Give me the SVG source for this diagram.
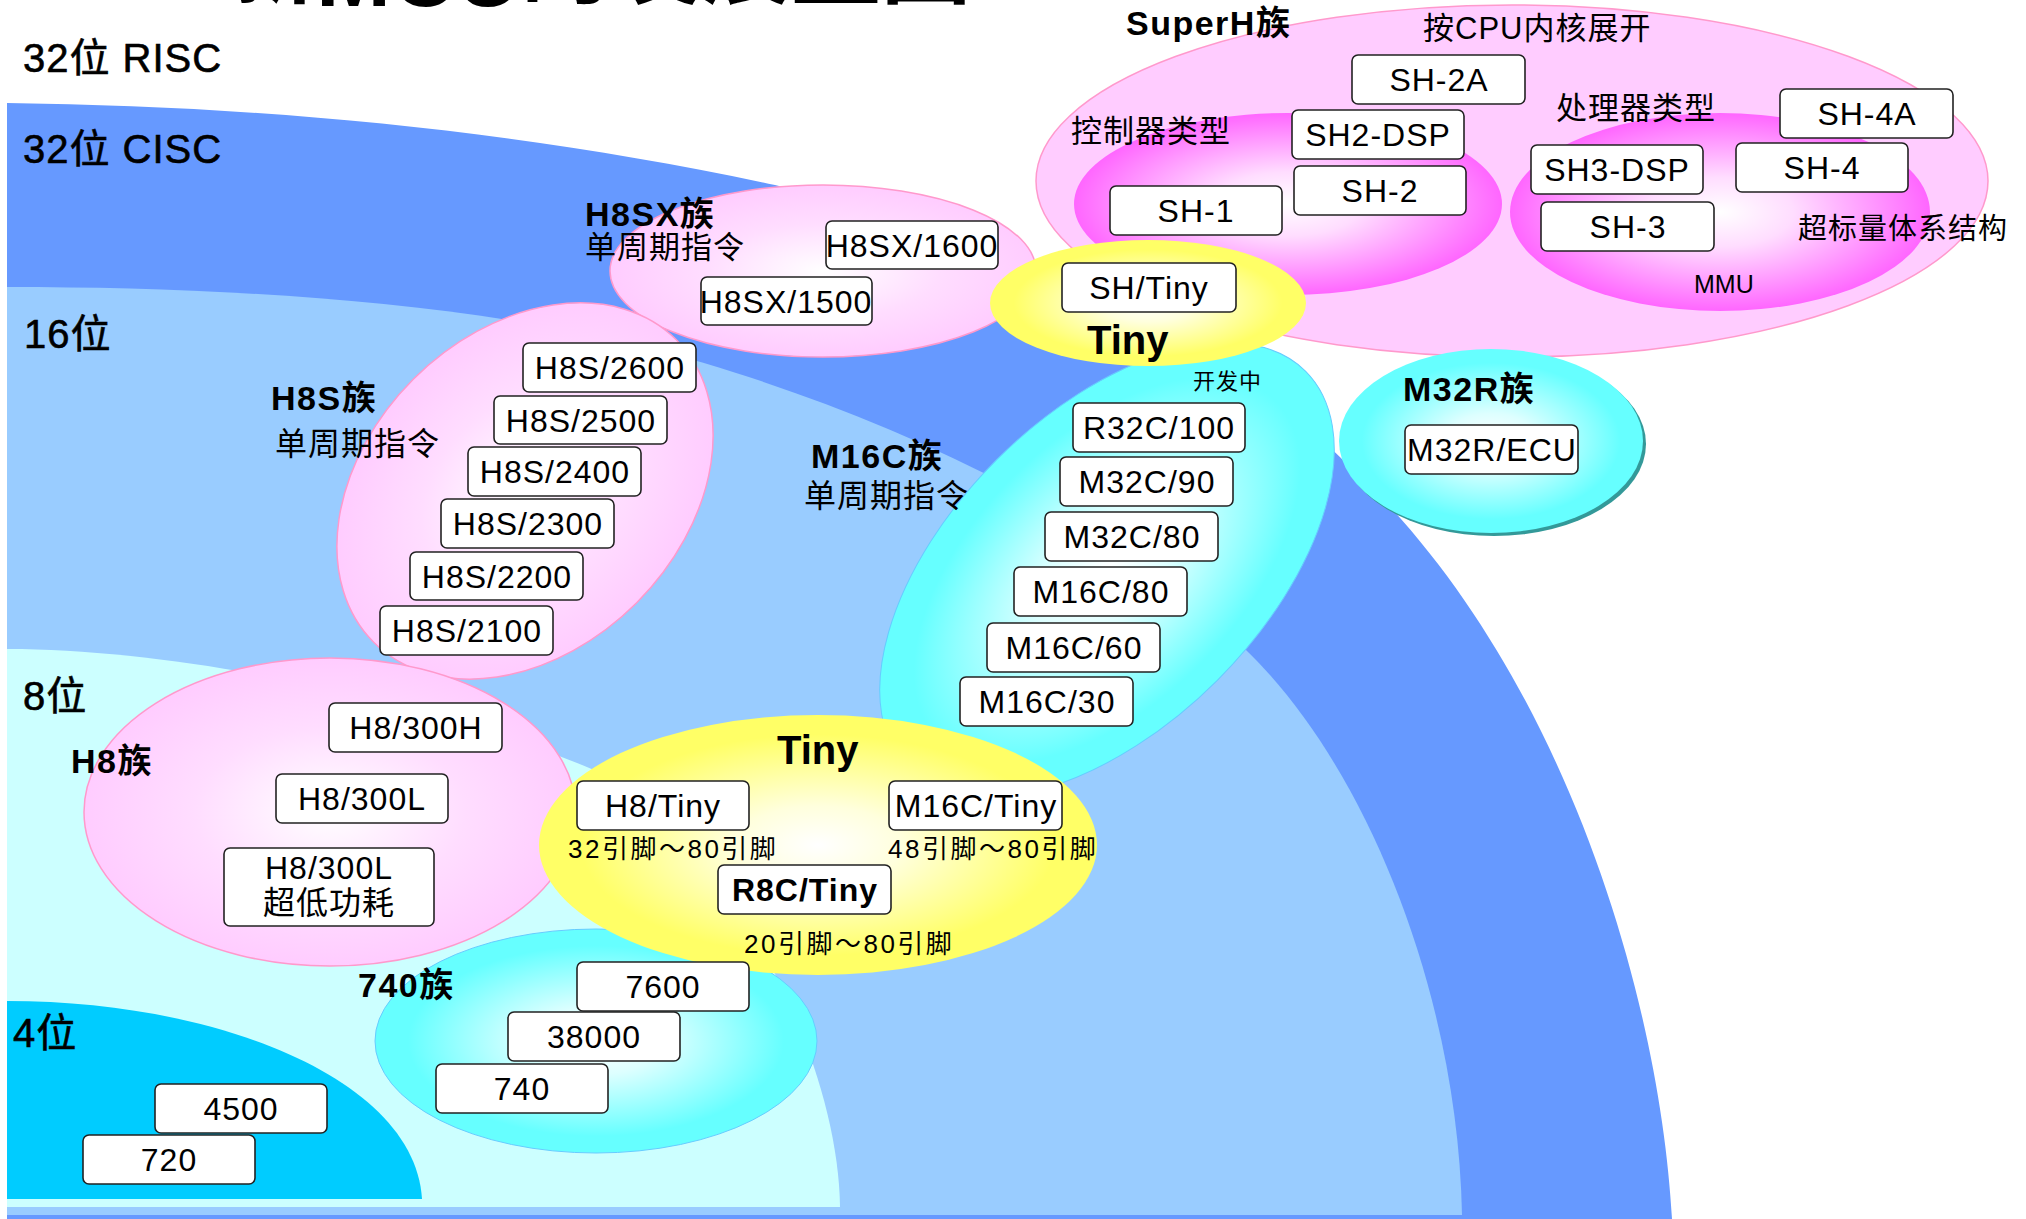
<svg xmlns="http://www.w3.org/2000/svg" width="2026" height="1219" viewBox="0 0 2026 1219">
<defs>
<style>
text{font-family:'Liberation Sans','Noto Sans CJK SC',sans-serif;fill:#000}
.box rect{fill:#fff;stroke:#222;stroke-width:1.6}
.box text{font-size:32px;text-anchor:middle;letter-spacing:1px}
.lvl{font-size:40px;letter-spacing:1px;stroke:#000;stroke-width:0.6px}
.fam{font-size:34px;font-weight:bold;letter-spacing:1.5px}
.sub{font-size:31px;letter-spacing:1px}
.pin{font-size:26px;letter-spacing:2.5px}
.pk{fill:url(#gPink);stroke:#FF99CC;stroke-width:1.5}
.mg{fill:url(#gMag);stroke:none}
.yl{fill:url(#gYel);stroke:none}
.cy{fill:url(#gCyan);stroke:#66CCFF;stroke-width:1}
</style>
<radialGradient id="gPink"><stop offset="0" stop-color="#FFFFFF"/><stop offset="0.55" stop-color="#FFDDFF"/><stop offset="1" stop-color="#FFCCFF"/></radialGradient>
<radialGradient id="gMag"><stop offset="0" stop-color="#FFFFFF"/><stop offset="0.35" stop-color="#FFDDFF"/><stop offset="1" stop-color="#FF66FF"/></radialGradient>
<radialGradient id="gYel"><stop offset="0" stop-color="#FFFFFF"/><stop offset="0.3" stop-color="#FFFFDD"/><stop offset="0.85" stop-color="#FFFF66"/><stop offset="1" stop-color="#FFFF66"/></radialGradient>
<radialGradient id="gCyan"><stop offset="0" stop-color="#FFFFFF"/><stop offset="0.3" stop-color="#DDFFFF"/><stop offset="0.85" stop-color="#66FFFF"/><stop offset="1" stop-color="#66FFFF"/></radialGradient>
</defs>
<rect width="2026" height="1219" fill="#FFFFFF"/>
<text x="226" y="-4" style="font-size:90px;font-weight:bold">新<tspan dy="10">MCU</tspan><tspan dy="-10">的发展蓝图</tspan></text>
<g id="bands">
<path d="M7,103 C263,106 519,130 775,185 C965,232 1193,310 1343,460 C1563,660 1660,1000 1672,1219 L7,1219 Z" fill="#6699FF"/>
<path d="M7,287 C240,287 504,303 704,363 C884,417 1096,510 1246,650 C1370,770 1458,1000 1462,1215 L7,1215 Z" fill="#99CCFF"/>
<path d="M7,649 C200,649 454,710 594,770 C720,830 838,1050 840,1207 L7,1207 Z" fill="#CCFFFF"/>
<path d="M7,1001 C220,1001 415,1080 422,1199 L7,1199 Z" fill="#00CCFF"/>
</g>
<g id="levels">
<text class="lvl" x="23" y="72">32位 RISC</text>
<text class="lvl" x="23" y="163">32位 CISC</text>
<text class="lvl" x="24" y="348">16位</text>
<text class="lvl" x="23" y="710">8位</text>
<text class="lvl" x="13" y="1047">4位</text>
</g>
<g id="superh">
<ellipse cx="1512" cy="181" rx="476" ry="176" fill="#FFCCFF" stroke="#FF99CC" stroke-width="1.5"/>
<text class="fam" x="1126" y="35">SuperH族</text>
<text class="sub" x="1423" y="39">按CPU内核展开</text>
</g>
<g id="sh-control">
<ellipse class="mg" cx="1288" cy="204" rx="214" ry="91"/>
<text class="sub" x="1071" y="142">控制器类型</text>
</g>
<g id="sh-processor">
<ellipse class="mg" cx="1720" cy="212" rx="210" ry="99"/>
<text class="sub" x="1556" y="119">处理器类型</text>
<text class="sub" x="1798" y="239" style="font-size:29px">超标量体系结构</text>
<text x="1694" y="293" style="font-size:25px">MMU</text>
</g>
<g id="h8sx">
<ellipse class="pk" cx="823" cy="271" rx="213" ry="86"/>
<text class="fam" x="585" y="226">H8SX族</text>
<text class="sub" x="585" y="258">单周期指令</text>
</g>
<g id="h8s">
<ellipse class="pk" cx="525" cy="491" rx="214" ry="158" transform="rotate(-45 525 491)"/>
<text class="fam" x="271" y="410">H8S族</text>
<text class="sub" x="275" y="455" style="font-size:32px">单周期指令</text>
</g>
<g id="m16c">
<ellipse class="cy" cx="1107" cy="570" rx="281" ry="156" transform="rotate(-45 1107 570)"/>
<text class="fam" x="811" y="468">M16C族</text>
<text class="sub" x="804" y="507" style="font-size:32px">单周期指令</text>
<text x="1193" y="389" style="font-size:22px;letter-spacing:1px">开发中</text>
</g>
<g id="m32r">
<ellipse cx="1494" cy="444" rx="152" ry="92" fill="#339999"/>
<ellipse cx="1491" cy="441" rx="152" ry="92" fill="url(#gCyan)"/>
<text class="fam" x="1403" y="401">M32R族</text>
</g>
<g id="sh-tiny">
<ellipse class="yl" cx="1148" cy="303" rx="158" ry="63"/>
<text x="1087" y="354" style="font-size:40px;font-weight:bold">Tiny</text>
</g>
<g id="h8">
<ellipse class="pk" cx="330" cy="812" rx="246" ry="154"/>
<text class="fam" x="71" y="773">H8族</text>
</g>
<g id="f740">
<ellipse class="cy" cx="596" cy="1041" rx="221" ry="112"/>
<text class="fam" x="358" y="997">740族</text>
</g>
<g id="tiny">
<ellipse class="yl" cx="818" cy="845" rx="279" ry="130"/>
<text x="777" y="764" style="font-size:40px;font-weight:bold">Tiny</text>
<text class="pin" x="568" y="858">32引脚～80引脚</text>
<text class="pin" x="888" y="858">48引脚～80引脚</text>
<text class="pin" x="744" y="953">20引脚～80引脚</text>
</g>
<g id="connectors"/>
<g id="b-h8sx1600" class="box"><rect x="826" y="221" width="172" height="48" rx="6"/><text x="912" y="257">H8SX/1600</text></g>
<g id="b-h8sx1500" class="box"><rect x="701" y="277" width="171" height="48" rx="6"/><text x="786" y="313">H8SX/1500</text></g>
<g id="b-h8s2600" class="box"><rect x="523" y="343" width="173" height="49" rx="6"/><text x="610" y="379">H8S/2600</text></g>
<g id="b-h8s2500" class="box"><rect x="494" y="396" width="173" height="48" rx="6"/><text x="581" y="432">H8S/2500</text></g>
<g id="b-h8s2400" class="box"><rect x="468" y="447" width="173" height="49" rx="6"/><text x="555" y="483">H8S/2400</text></g>
<g id="b-h8s2300" class="box"><rect x="441" y="499" width="173" height="49" rx="6"/><text x="528" y="535">H8S/2300</text></g>
<g id="b-h8s2200" class="box"><rect x="410" y="552" width="173" height="48" rx="6"/><text x="497" y="588">H8S/2200</text></g>
<g id="b-h8s2100" class="box"><rect x="380" y="606" width="173" height="49" rx="6"/><text x="467" y="642">H8S/2100</text></g>
<g id="b-h8300h" class="box"><rect x="329" y="703" width="173" height="49" rx="6"/><text x="416" y="739">H8/300H</text></g>
<g id="b-h8300l" class="box"><rect x="276" y="774" width="172" height="49" rx="6"/><text x="362" y="810">H8/300L</text></g>
<g id="b-h8300lp" class="box"><rect x="224" y="848" width="210" height="78" rx="6"/><text x="329" y="879">H8/300L</text><text x="329" y="914">超低功耗</text></g>
<g id="b-h8tiny" class="box"><rect x="577" y="781" width="172" height="49" rx="6"/><text x="663" y="817">H8/Tiny</text></g>
<g id="b-m16ctiny" class="box"><rect x="889" y="781" width="173" height="49" rx="6"/><text x="976" y="817">M16C/Tiny</text></g>
<g id="b-r8ctiny" class="box"><rect x="718" y="865" width="173" height="49" rx="6"/><text x="805" y="901" style="font-weight:bold">R8C/Tiny</text></g>
<g id="b-7600" class="box"><rect x="577" y="962" width="172" height="49" rx="6"/><text x="663" y="998">7600</text></g>
<g id="b-38000" class="box"><rect x="508" y="1012" width="172" height="49" rx="6"/><text x="594" y="1048">38000</text></g>
<g id="b-740" class="box"><rect x="436" y="1064" width="172" height="49" rx="6"/><text x="522" y="1100">740</text></g>
<g id="b-4500" class="box"><rect x="155" y="1084" width="172" height="49" rx="6"/><text x="241" y="1120">4500</text></g>
<g id="b-720" class="box"><rect x="83" y="1135" width="172" height="49" rx="6"/><text x="169" y="1171">720</text></g>
<g id="b-sh2a" class="box"><rect x="1352" y="55" width="173" height="49" rx="6"/><text x="1439" y="91">SH-2A</text></g>
<g id="b-sh2dsp" class="box"><rect x="1292" y="110" width="172" height="49" rx="6"/><text x="1378" y="146">SH2-DSP</text></g>
<g id="b-sh2" class="box"><rect x="1294" y="166" width="172" height="49" rx="6"/><text x="1380" y="202">SH-2</text></g>
<g id="b-sh1" class="box"><rect x="1110" y="186" width="172" height="49" rx="6"/><text x="1196" y="222">SH-1</text></g>
<g id="b-sh3dsp" class="box"><rect x="1531" y="145" width="172" height="49" rx="6"/><text x="1617" y="181">SH3-DSP</text></g>
<g id="b-sh3" class="box"><rect x="1541" y="202" width="173" height="49" rx="6"/><text x="1628" y="238">SH-3</text></g>
<g id="b-sh4a" class="box"><rect x="1780" y="89" width="173" height="49" rx="6"/><text x="1867" y="125">SH-4A</text></g>
<g id="b-sh4" class="box"><rect x="1736" y="143" width="172" height="49" rx="6"/><text x="1822" y="179">SH-4</text></g>
<g id="b-shtiny" class="box"><rect x="1062" y="263" width="174" height="49" rx="6"/><text x="1149" y="299">SH/Tiny</text></g>
<g id="b-r32c100" class="box"><rect x="1073" y="403" width="172" height="49" rx="6"/><text x="1159" y="439">R32C/100</text></g>
<g id="b-m32c90" class="box"><rect x="1060" y="457" width="173" height="49" rx="6"/><text x="1147" y="493">M32C/90</text></g>
<g id="b-m32c80" class="box"><rect x="1045" y="512" width="173" height="49" rx="6"/><text x="1132" y="548">M32C/80</text></g>
<g id="b-m16c80" class="box"><rect x="1014" y="567" width="173" height="49" rx="6"/><text x="1101" y="603">M16C/80</text></g>
<g id="b-m16c60" class="box"><rect x="987" y="623" width="173" height="49" rx="6"/><text x="1074" y="659">M16C/60</text></g>
<g id="b-m16c30" class="box"><rect x="960" y="677" width="173" height="49" rx="6"/><text x="1047" y="713">M16C/30</text></g>
<g id="b-m32recu" class="box"><rect x="1405" y="425" width="173" height="49" rx="6"/><text x="1492" y="461">M32R/ECU</text></g>
</svg>
